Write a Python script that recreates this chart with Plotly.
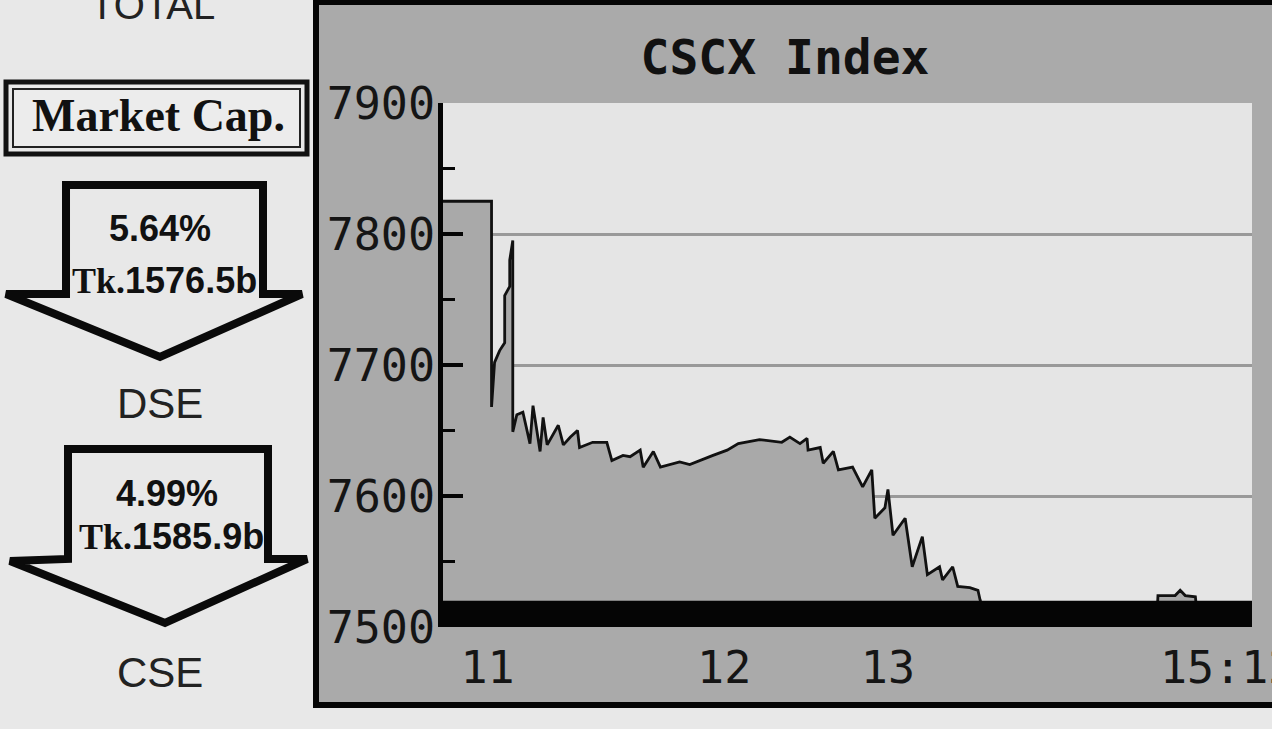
import plotly.graph_objects as go

W, H = 1272, 729

# ---- data (trade sequence number vs. CSCX index value) ----
seq = [0, 48, 48, 51, 56, 61, 61, 66, 66, 69, 69, 73, 79, 86, 89, 96, 99, 103, 114, 119,
       126, 133, 135, 148, 162, 167, 178, 185, 195, 198, 208, 215, 234, 244, 267, 281, 292,
       313, 335, 343, 353, 360, 361, 373, 376, 386, 391, 405, 415, 424, 427, 437, 440, 445,
       457, 464, 474, 479, 491, 494, 504, 509, 521, 529, 531, 536, 706, 707, 724, 729, 734,
       744, 746, 800]
index_vals = [7825, 7825, 7668, 7702, 7711, 7717, 7753, 7760, 7780, 7795, 7649, 7662, 7664,
              7640, 7669, 7634, 7660, 7639, 7654, 7639, 7645, 7650, 7637, 7641, 7641, 7627,
              7631, 7630, 7635, 7622, 7634, 7622, 7626, 7624, 7631, 7635, 7640, 7643, 7641,
              7645, 7640, 7644, 7635, 7637, 7625, 7634, 7620, 7622, 7607, 7620, 7583, 7591,
              7605, 7570, 7583, 7546, 7569, 7540, 7546, 7536, 7546, 7531, 7530, 7528, 7521,
              7508, 7508, 7524, 7524, 7528, 7524, 7523, 7508, 7510]
x_tick_pos = [44, 278, 440, 776]
x_tick_text = ["11", "12", "13", "15:12"]
y_ticks = [7500, 7600, 7700, 7800, 7900]

# left panel texts
dse_pct, dse_cap = "5.64%", "1576.5b"
cse_pct, cse_cap = "4.99%", "1585.9b"


def px(x):
    return x / W


def py(y):
    return 1 - y / H


fig = go.Figure()
fig.add_trace(go.Scatter(
    x=seq, y=index_vals, mode="lines",
    line=dict(color="#111111", width=2.8),
    fill="tozeroy", fillcolor="#a9a9a9",
    showlegend=False, hoverinfo="skip",
))

shapes = []
# chart panel
shapes.append(dict(type="rect", xref="paper", yref="paper", layer="below",
                   x0=px(316), x1=px(1290), y0=py(705), y1=py(2),
                   fillcolor="#aaaaaa", line=dict(color="#050505", width=6)))
# plot area background
shapes.append(dict(type="rect", xref="paper", yref="paper", layer="below",
                   x0=px(443), x1=px(1252), y0=py(627), y1=py(103),
                   fillcolor="#e5e5e5", line=dict(width=0)))
# thick base bar
shapes.append(dict(type="rect", xref="x domain", yref="y", layer="above",
                   x0=0, x1=1, y0=7500, y1=7520,
                   fillcolor="#050505", line=dict(width=0)))
# Market Cap box (double border)
shapes.append(dict(type="rect", xref="paper", yref="paper",
                   x0=px(6), x1=px(307), y0=py(154), y1=py(82),
                   fillcolor="rgba(0,0,0,0)", line=dict(color="#111", width=5)))
shapes.append(dict(type="rect", xref="paper", yref="paper",
                   x0=px(13), x1=px(300), y0=py(147), y1=py(89),
                   fillcolor="#ececec", line=dict(color="#222", width=2)))


def arrow(pts):
    d = "M " + " L ".join(f"{px(a):.5f},{py(b):.5f}" for a, b in pts) + " Z"
    return dict(type="path", xref="paper", yref="paper", path=d,
                fillcolor="rgba(0,0,0,0)", line=dict(color="#0a0a0a", width=8))


shapes.append(arrow([(66, 294), (66, 185), (263, 185), (263, 294), (302, 294), (160, 357), (6, 294)]))
shapes.append(arrow([(68, 559), (68, 449), (268, 449), (268, 559), (307, 559), (165, 623), (10, 561)]))

ann = []
sans = "Liberation Sans"
serif = "Liberation Serif"


def note(text, x, y, family, size, color="#111"):
    ann.append(dict(text=text, x=px(x), y=py(y), xref="paper", yref="paper",
                    xanchor="center", yanchor="middle", showarrow=False,
                    font=dict(family=family, size=size, color=color)))


note("TOTAL", 152, 5, sans, 40, "#222")
note("<b>Market Cap.</b>", 158, 116, serif, 46)
for (pct, cap, label, cx, y1, y2, y3) in [
        (dse_pct, dse_cap, "DSE", 160, 228, 280, 404),
        (cse_pct, cse_cap, "CSE", 167, 493, 536, 672)]:
    note(f"<b>{pct}</b>", cx, y1, sans, 36)
    note(f"<b><span style='font-family:{serif}'>Tk.</span>{cap}</b>", cx + 4, y2, sans, 36)
    note(label, 160, y3, sans, 42, "#222")

fig.update_layout(
    width=W, height=H,
    margin=dict(l=0, r=0, t=0, b=0, pad=0, autoexpand=False),
    paper_bgcolor="#e8e8e8",
    plot_bgcolor="rgba(0,0,0,0)",
    title=dict(text="<b>CSCX Index</b>", x=px(785), xanchor="center",
               y=py(57), yanchor="middle", xref="paper", yref="paper",
               automargin=False,
               font=dict(family="DejaVu Sans Mono", size=48, color="#111")),
    shapes=shapes,
    annotations=ann,
    showlegend=False,
    xaxis=dict(domain=[px(443), px(1252)], range=[0, 800], automargin=False,
               tickmode="array", tickvals=x_tick_pos, ticktext=x_tick_text,
               ticks="", showgrid=False, zeroline=False, showline=False,
               ticklabeloverflow="allow", ticklabelstandoff=10,
               tickfont=dict(family="DejaVu Sans Mono", size=45, color="#151515"),
               fixedrange=True),
    yaxis=dict(domain=[py(627), py(103)], range=[7500, 7900], automargin=False,
               tickmode="array", tickvals=y_ticks,
               ticks="inside", ticklen=20, tickwidth=4, tickcolor="#050505",
               showline=True, linewidth=5, linecolor="#050505",
               showgrid=True, gridcolor="#999999", gridwidth=3, zeroline=False,
               ticklabeloverflow="allow", ticklabelstandoff=-6,
               tickfont=dict(family="DejaVu Sans Mono", size=45, color="#151515"),
               minor=dict(tickvals=[7550, 7650, 7750, 7850], ticks="inside",
                          ticklen=12, tickwidth=3, tickcolor="#050505", showgrid=False),
               fixedrange=True),
)

fig.write_html("out.html", config={"displayModeBar": False},
               post_script="document.body.style.margin='0';document.body.style.overflow='hidden';")
